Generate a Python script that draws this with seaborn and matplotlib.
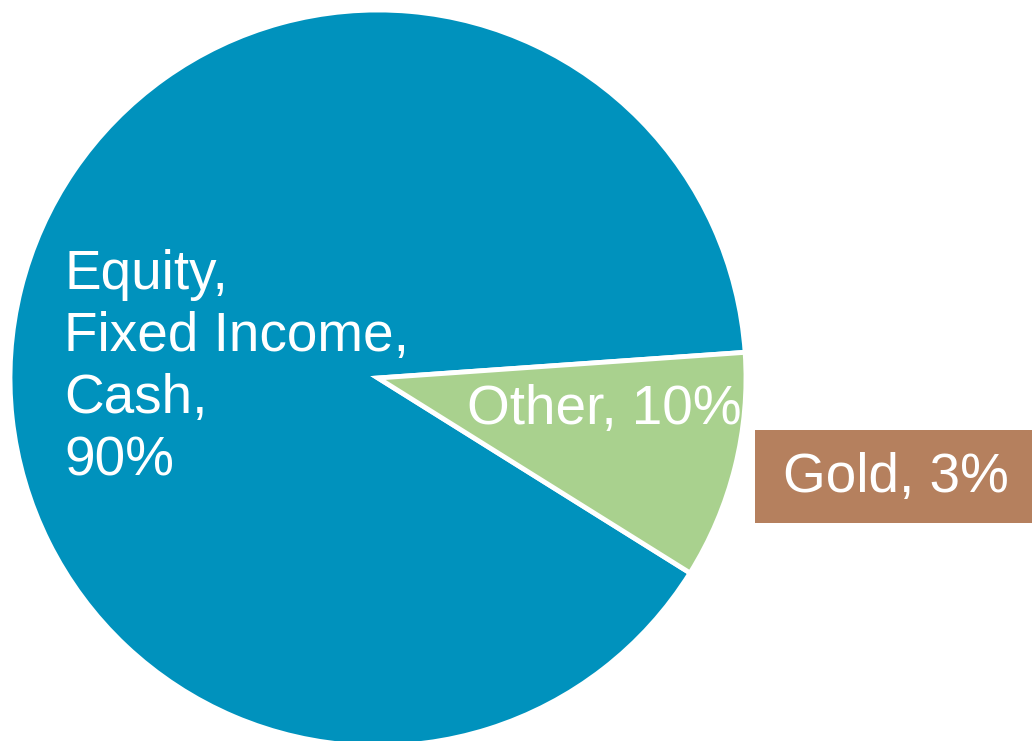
import matplotlib
matplotlib.use("Agg")
import matplotlib.pyplot as plt
from matplotlib.patches import Rectangle
import seaborn as sns

# data
categories = ["Equity,\nFixed Income,\nCash,\n90%", "Other, 10%"]
values = [90, 10]
colors = ["#0092BD", "#A9D18E"]
gold_label = "Gold, 3%"
gold_color = "#B5805E"

sns.set_theme(style="white")
plt.rcParams["font.family"] = ["Liberation Sans", "DejaVu Sans"]

W, H = 1032, 741
fig = plt.figure(figsize=(W / 100, H / 100), dpi=100)
ax = fig.add_axes([0, 0, 1, 1])

cx, cy, r = 378, 378, 368  # pixel center & radius
ax.pie(values, colors=colors, startangle=4, counterclock=True,
       wedgeprops=dict(edgecolor="white", linewidth=3.5))
ax.set_aspect("auto")
ax.set_xlim(-cx / r, (W - cx) / r)
ax.set_ylim(-(H - cy) / r, cy / r)
ax.axis("off")

def px(x, y):
    return (x - cx) / r, ((H - y) - (H - cy)) / r

fs = 39.5
# Equity label
x, y = px(64, 368)
ax.text(x, y, categories[0], ha="left", va="center", color="white",
        fontsize=fs, linespacing=1.25)
# Other label
x, y = px(604, 410)
ax.text(x, y, categories[1], ha="center", va="center", color="white", fontsize=fs)

# Gold box
x0, y0 = px(755, 523)
x1, y1 = px(1040, 430)
ax.add_patch(Rectangle((x0, y0), x1 - x0, y1 - y0, facecolor=gold_color,
                       edgecolor="none", clip_on=False))
x, y = px(896, 478)
ax.text(x, y, gold_label, ha="center", va="center", color="white", fontsize=fs)

fig.savefig("out.png", dpi=100)
